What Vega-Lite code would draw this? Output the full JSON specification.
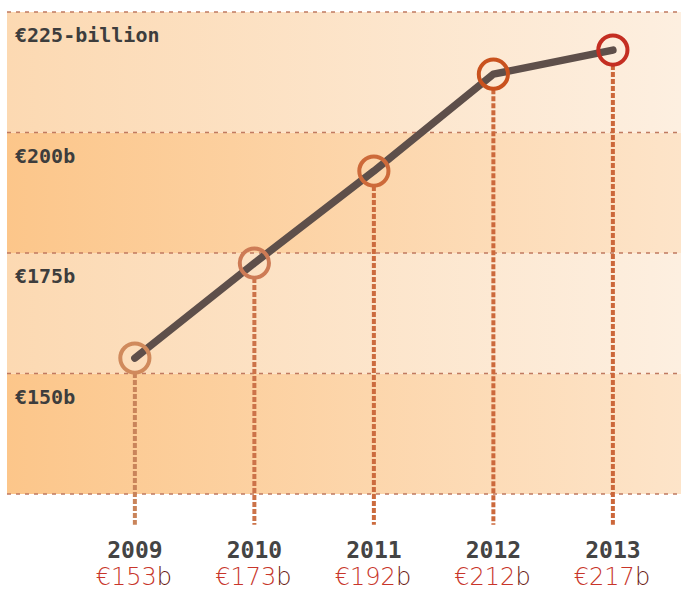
{
  "$schema": "https://vega.github.io/schema/vega-lite/v6.json",
  "width": 674,
  "height": 482,
  "autosize": {"type": "none"},
  "padding": {"left": 7, "top": 12, "right": 0, "bottom": 98},
  "background": "white",
  "config": {"view": {"stroke": null}},
  "datasets": {
    "pts": [
      {"year": 2009, "value": 153.2, "amount": "€153"},
      {"year": 2010, "value": 172.9, "amount": "€173"},
      {"year": 2011, "value": 192.0, "amount": "€192"},
      {"year": 2012, "value": 212.1, "amount": "€212"},
      {"year": 2013, "value": 217.1, "amount": "€217"}
    ],
    "bands": [
      {"lo": 125, "hi": 150, "kind": "dark"},
      {"lo": 150, "hi": 175, "kind": "light"},
      {"lo": 175, "hi": 200, "kind": "dark"},
      {"lo": 200, "hi": 225, "kind": "light"}
    ],
    "grid": [{"v": 125}, {"v": 150}, {"v": 175}, {"v": 200}, {"v": 225}],
    "ticks": [
      {"v": 225, "label": "€225-billion"},
      {"v": 200, "label": "€200b"},
      {"v": 175, "label": "€175b"},
      {"v": 150, "label": "€150b"}
    ]
  },
  "layer": [
    {
      "data": {"name": "bands"},
      "transform": [{"filter": "datum.kind === 'dark'"}],
      "mark": {"type": "rect", "color": {"gradient": "linear", "x1": 0, "x2": 1, "y1": 0, "y2": 0, "stops": [{"offset": 0, "color": "#fcc68a"}, {"offset": 1, "color": "#fde4c9"}]}},
      "encoding": {
        "x": {"datum": 2007.93, "type": "quantitative", "scale": {"domain": [2007.93, 2013.57], "nice": false, "zero": false}, "axis": null},
        "x2": {"datum": 2013.57},
        "y": {"field": "lo", "type": "quantitative", "scale": {"domain": [125, 225], "nice": false, "zero": false}, "axis": null},
        "y2": {"field": "hi"}
      }
    },
    {
      "data": {"name": "bands"},
      "transform": [{"filter": "datum.kind === 'light'"}],
      "mark": {"type": "rect", "color": {"gradient": "linear", "x1": 0, "x2": 1, "y1": 0, "y2": 0, "stops": [{"offset": 0, "color": "#fcd9b2"}, {"offset": 1, "color": "#fdefe0"}]}},
      "encoding": {
        "x": {"datum": 2007.93, "type": "quantitative", "scale": {"domain": [2007.93, 2013.57], "nice": false, "zero": false}, "axis": null},
        "x2": {"datum": 2013.57},
        "y": {"field": "lo", "type": "quantitative", "scale": {"domain": [125, 225], "nice": false, "zero": false}, "axis": null},
        "y2": {"field": "hi"}
      }
    },
    {
      "data": {"name": "grid"},
      "mark": {"type": "rule", "color": "#c07a60", "strokeWidth": 1.5, "strokeDash": [4, 5]},
      "encoding": {
        "x": {"datum": 2007.93, "type": "quantitative", "scale": {"domain": [2007.93, 2013.57], "nice": false, "zero": false}, "axis": null},
        "x2": {"datum": 2013.57},
        "y": {"field": "v", "type": "quantitative", "scale": {"domain": [125, 225], "nice": false, "zero": false}, "axis": null}
      }
    },
    {
      "data": {"name": "pts"},
      "mark": {"type": "rule", "strokeWidth": 4, "strokeDash": [5, 2], "yOffset": 15},
      "encoding": {
        "x": {"field": "year", "type": "quantitative", "scale": {"domain": [2007.93, 2013.57], "nice": false, "zero": false}, "axis": null},
        "y": {"field": "value", "type": "quantitative", "scale": {"domain": [125, 225], "nice": false, "zero": false}, "axis": null},
        "y2": {"datum": 118.6},
        "color": {"field": "year", "type": "nominal", "scale": {"domain": [2009, 2010, 2011, 2012, 2013], "range": ["#c9845a", "#cc7349", "#cc6b3e", "#cc693c", "#cc673a"]}, "legend": null}
      }
    },
    {
      "data": {"name": "pts"},
      "mark": {"type": "line", "color": "#5e4f4a", "strokeWidth": 7.5, "strokeCap": "round", "strokeJoin": "round"},
      "encoding": {
        "x": {"field": "year", "type": "quantitative", "scale": {"domain": [2007.93, 2013.57], "nice": false, "zero": false}, "axis": null},
        "y": {"field": "value", "type": "quantitative", "scale": {"domain": [125, 225], "nice": false, "zero": false}, "axis": null}
      }
    },
    {
      "data": {"name": "pts"},
      "mark": {"type": "point", "shape": "circle", "filled": false, "size": 850, "strokeWidth": 4, "opacity": 1},
      "encoding": {
        "x": {"field": "year", "type": "quantitative", "scale": {"domain": [2007.93, 2013.57], "nice": false, "zero": false}, "axis": null},
        "y": {"field": "value", "type": "quantitative", "scale": {"domain": [125, 225], "nice": false, "zero": false}, "axis": null},
        "stroke": {"field": "year", "type": "nominal", "scale": {"domain": [2009, 2010, 2011, 2012, 2013], "range": ["#d08a5c", "#cd7b55", "#cd6a3a", "#c9521e", "#c42e22"]}, "legend": null}
      }
    },
    {
      "data": {"name": "ticks"},
      "mark": {"type": "text", "font": "DejaVu Sans Mono", "fontWeight": "bold", "fontSize": 20, "color": "#3d3d3d", "align": "left", "baseline": "alphabetic", "dx": 8, "dy": 30},
      "encoding": {
        "x": {"datum": 2007.93, "type": "quantitative", "scale": {"domain": [2007.93, 2013.57], "nice": false, "zero": false}, "axis": null},
        "y": {"field": "v", "type": "quantitative", "scale": {"domain": [125, 225], "nice": false, "zero": false}, "axis": null},
        "text": {"field": "label", "type": "nominal"}
      }
    },
    {
      "data": {"name": "pts"},
      "mark": {"type": "text", "font": "DejaVu Sans Mono", "fontWeight": "bold", "fontSize": 23, "color": "#444444", "align": "center", "baseline": "alphabetic", "dy": 64},
      "encoding": {
        "x": {"field": "year", "type": "quantitative", "scale": {"domain": [2007.93, 2013.57], "nice": false, "zero": false}, "axis": null},
        "y": {"datum": 125, "type": "quantitative", "scale": {"domain": [125, 225], "nice": false, "zero": false}, "axis": null},
        "text": {"field": "year", "type": "nominal"}
      }
    },
    {
      "data": {"name": "pts"},
      "mark": {"type": "text", "font": "DejaVu Sans", "fontWeight": 200, "fontSize": 24, "color": "#c8352a", "align": "right", "baseline": "alphabetic", "dx": 22, "dy": 91},
      "encoding": {
        "x": {"field": "year", "type": "quantitative", "scale": {"domain": [2007.93, 2013.57], "nice": false, "zero": false}, "axis": null},
        "y": {"datum": 125, "type": "quantitative", "scale": {"domain": [125, 225], "nice": false, "zero": false}, "axis": null},
        "text": {"field": "amount", "type": "nominal"}
      }
    },
    {
      "data": {"name": "pts"},
      "mark": {"type": "text", "font": "DejaVu Sans", "fontWeight": 200, "fontSize": 24, "color": "#6a1a12", "align": "left", "baseline": "alphabetic", "dx": 22, "dy": 91, "text": "b"},
      "encoding": {
        "x": {"field": "year", "type": "quantitative", "scale": {"domain": [2007.93, 2013.57], "nice": false, "zero": false}, "axis": null},
        "y": {"datum": 125, "type": "quantitative", "scale": {"domain": [125, 225], "nice": false, "zero": false}, "axis": null}
      }
    }
  ]
}
